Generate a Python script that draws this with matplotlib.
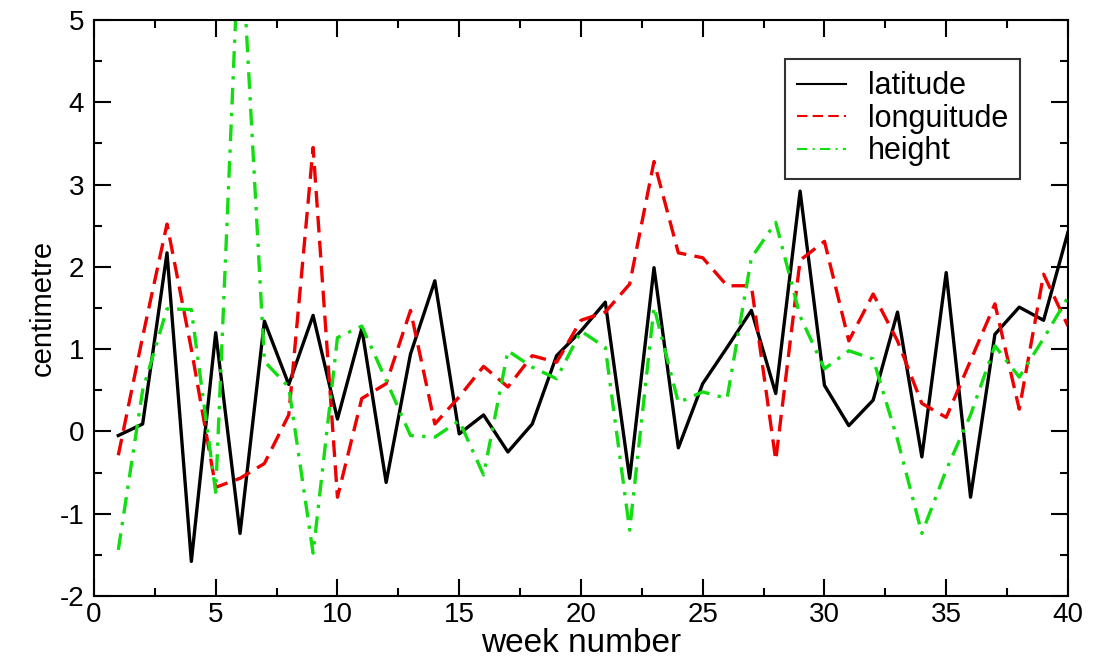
import matplotlib
matplotlib.use("Agg")
import matplotlib.pyplot as plt
from matplotlib.ticker import MultipleLocator

plt.rcParams['font.family'] = ['Liberation Sans', 'DejaVu Sans']
plt.rcParams['axes.unicode_minus'] = False   # plain hyphen like the original

# weekly values
weeks = list(range(1, 41))
latitude = [-0.05, 0.09, 2.17, -1.58, 1.2, -1.24, 1.34, 0.57, 1.41, 0.15,
            1.25, -0.62, 0.94, 1.83, -0.03, 0.2, -0.25, 0.09, 0.92, 1.22,
            1.57, -0.57, 1.99, -0.2, 0.58, 1.02, 1.47, 0.46, 2.92, 0.56,
            0.07, 0.38, 1.45, -0.31, 1.93, -0.8, 1.18, 1.51, 1.35, 2.42]
longitude = [-0.29, 1.15, 2.52, 1.0, -0.68, -0.57, -0.39, 0.2, 3.45, -0.8,
             0.4, 0.58, 1.47, 0.09, 0.42, 0.79, 0.54, 0.92, 0.84, 1.35,
             1.45, 1.79, 3.28, 2.17, 2.11, 1.77, 1.77, -0.35, 2.08, 2.31,
             1.1, 1.67, 1.1, 0.34, 0.17, 0.86, 1.55, 0.27, 1.91, 1.28]
height = [-1.44, 0.5, 1.49, 1.48, -0.74, 6.3, 0.85, 0.54, -1.48, 1.14,
          1.28, 0.62, -0.05, -0.07, 0.13, -0.53, 0.98, 0.78, 0.64, 1.22,
          1.02, -1.2, 1.51, 0.35, 0.48, 0.4, 2.11, 2.54, 1.4, 0.76,
          0.98, 0.88, -0.1, -1.24, -0.47, 0.2, 1.04, 0.66, 1.13, 1.63]

fig = plt.figure(figsize=(10.95, 6.65), dpi=100)
ax = fig.add_axes([0.0858, 0.1038, 0.8895, 0.8662])

ax.plot(weeks, latitude, color='black', lw=2.4, label='latitude')
ax.plot(weeks, longitude, color='#ee0000', lw=2.4, dashes=(5, 2.5), label='longuitude')
ax.plot(weeks, height, color='#11dd11', lw=2.4, dashes=(5, 2.5, 1, 2.5), label='height')

ax.set_xlim(0, 40)
ax.set_ylim(-2, 5)
ax.xaxis.set_major_locator(MultipleLocator(5))
ax.xaxis.set_minor_locator(MultipleLocator(2.5))
ax.yaxis.set_major_locator(MultipleLocator(1))
ax.yaxis.set_minor_locator(MultipleLocator(0.5))
ax.tick_params(which='both', direction='in', top=True, right=True, width=1.5)
ax.tick_params(which='major', length=12, labelsize=20)
ax.tick_params(axis='x', which='major', pad=4)
ax.tick_params(axis='y', which='major', pad=7)
ax.tick_params(which='minor', length=6)
for s in ax.spines.values():
    s.set_linewidth(1.5)

ax.set_xlabel('week number', fontsize=24, labelpad=0)
ax.set_ylabel('centimetre', fontsize=21, labelpad=2)

leg = ax.legend(loc='upper right', bbox_to_anchor=(0.9315, 0.911),
                bbox_transform=fig.transFigure, borderaxespad=0,
                fontsize=22, fancybox=False, frameon=True,
                handlelength=1.6, handletextpad=0.7, labelspacing=0.08,
                borderpad=0.4)
leg.get_frame().set_edgecolor('black')
leg.get_frame().set_linewidth(1.5)
for h in leg.get_lines():
    h.set_linewidth(1.5)

fig.savefig('out.png', dpi=100)
